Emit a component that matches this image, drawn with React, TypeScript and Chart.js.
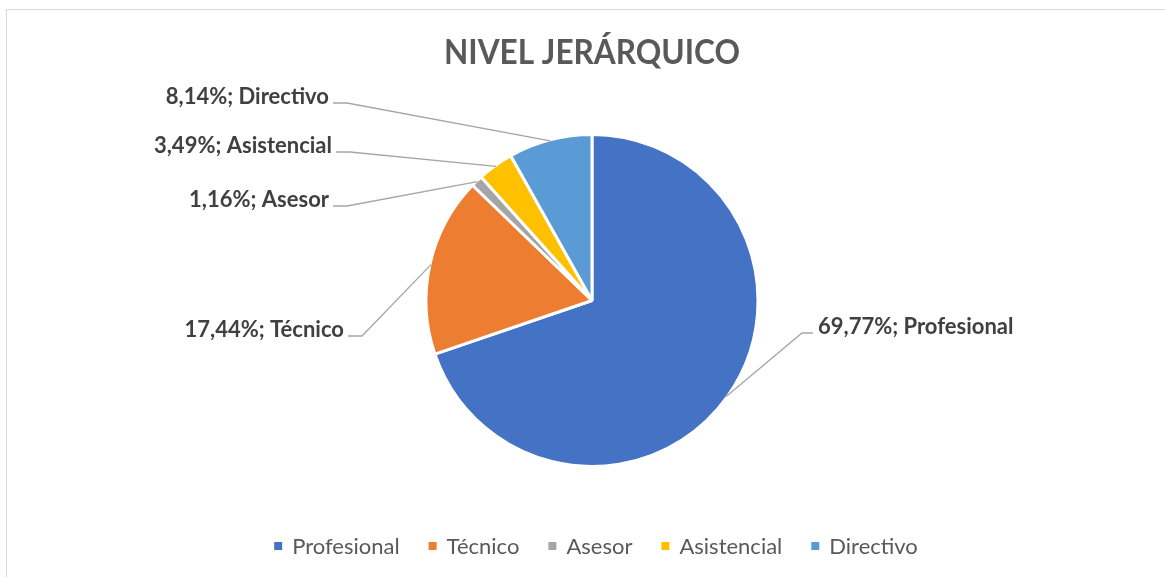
import React, { useEffect, useRef } from "react";
import { Chart, registerables } from "chart.js";

Chart.register(...registerables);

const categories = ["Profesional", "Técnico", "Asesor", "Asistencial", "Directivo"];
const percentages = [69.77, 17.44, 1.16, 3.49, 8.14];
const sliceColors = ["#4472C4", "#ED7D31", "#A5A5A5", "#FFC000", "#5B9BD5"];
const chartTitle = "NIVEL JERÁRQUICO";

// label layout (leader line elbow and horizontal level)
const labelElbowX = [802, 362, 347, 350, 347];
const labelLineY = [333, 336, 206, 152, 103];
const labelSide = ["right", "left", "left", "left", "left"];

const FONT = "Lato, 'Open Sans', 'DejaVu Sans', sans-serif";

const fmt = (v: number) => v.toFixed(2).replace(".", ",") + "%";

const decorPlugin = {
  id: "decor",
  beforeDraw(chart: any) {
    const ctx = chart.ctx;
    ctx.save();
    ctx.fillStyle = "#FFFFFF";
    ctx.fillRect(0, 0, chart.width, chart.height);
    ctx.strokeStyle = "#D9D9D9";
    ctx.lineWidth = 1;
    ctx.strokeRect(6.5, 9.5, 1300, 700);
    ctx.restore();
  },
  afterDraw(chart: any) {
    const ctx = chart.ctx;
    ctx.save();
    // title
    ctx.fillStyle = "#595959";
    ctx.font = `bold 34px ${FONT}`;
    ctx.textAlign = "center";
    ctx.textBaseline = "alphabetic";
    ctx.fillText(chartTitle, 592, 64, 296);

    // data labels with leader lines
    const meta = chart.getDatasetMeta(0);
    const ds = chart.data.datasets[0];
    ctx.font = `bold 22px ${FONT}`;
    ctx.textBaseline = "alphabetic";
    meta.data.forEach((arc: any, i: number) => {
      const p = arc.getProps(["x", "y", "startAngle", "endAngle", "outerRadius"], true);
      const mid = (p.startAngle + p.endAngle) / 2;
      const r = p.outerRadius - 1;
      const sx = p.x + Math.cos(mid) * r;
      const sy = p.y + Math.sin(mid) * r;
      const ex = labelElbowX[i];
      const ly = labelLineY[i];
      const right = labelSide[i] === "right";
      const endX = right ? ex + 11 : ex - 14;
      ctx.strokeStyle = "#A6A6A6";
      ctx.lineWidth = 1.3;
      ctx.beginPath();
      ctx.moveTo(sx, sy);
      ctx.lineTo(ex, ly);
      ctx.lineTo(endX, ly);
      ctx.stroke();
      const txt = fmt(ds.data[i]) + "; " + chart.data.labels[i];
      ctx.fillStyle = "#404040";
      ctx.textAlign = right ? "left" : "right";
      ctx.fillText(txt, right ? endX + 5 : endX - 4, ly + 1);
    });

    // legend
    ctx.font = `22px ${FONT}`;
    const sq = 8;
    const gapSq = 10;
    const gapItem = 29;
    const widths = chart.data.labels.map((l: string) => ctx.measureText(l).width);
    const total =
      widths.reduce((a: number, w: number) => a + sq + gapSq + w, 0) + gapItem * (widths.length - 1);
    let x = 596 - total / 2;
    const cy = 546;
    ctx.textAlign = "left";
    ctx.textBaseline = "middle";
    chart.data.labels.forEach((l: string, i: number) => {
      ctx.fillStyle = ds.backgroundColor[i];
      ctx.fillRect(x, cy - sq / 2, sq, sq);
      x += sq + gapSq;
      ctx.fillStyle = "#595959";
      ctx.fillText(l, x, cy + 1);
      x += widths[i] + gapItem;
    });
    ctx.restore();
  },
};

export default function App() {
  const ref = useRef<HTMLCanvasElement | null>(null);
  useEffect(() => {
    if (!ref.current) return;
    const chart = new Chart(ref.current, {
      type: "pie",
      data: {
        labels: categories,
        datasets: [
          {
            data: percentages,
            backgroundColor: sliceColors,
            borderColor: "#FFFFFF",
            borderWidth: 3,
            radius: 166,
          } as any,
        ],
      },
      options: {
        responsive: false,
        animation: false,
        layout: { padding: { left: 19, right: 0, top: 60, bottom: 36 } },
        plugins: {
          legend: { display: false },
          title: { display: false },
          tooltip: { enabled: false },
        },
      },
      plugins: [decorPlugin],
    });
    return () => chart.destroy();
  }, []);
  return (
    <div style={{ position: "fixed", left: 0, top: 0, width: 1165, height: 577, background: "#fff" }}>
      <canvas ref={ref} width={1165} height={577} style={{ width: 1165, height: 577, display: "block" }} />
    </div>
  );
}
